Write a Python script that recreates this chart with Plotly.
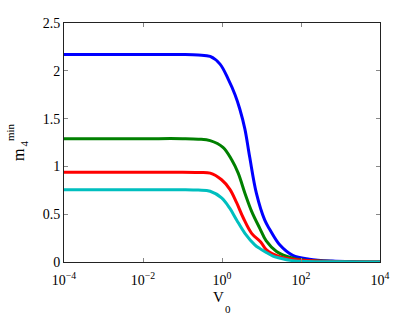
import plotly.graph_objects as go

# log10(V0) sample positions and m4^min values
blue_logv = [-4, -2, -1, -0.6, -0.3, -0.05, 0.16, 0.33, 0.45, 0.58, 0.70, 0.87, 1.08, 1.21, 1.46, 1.79, 2.21, 2.79, 3.4, 4]
blue_m = [2.17, 2.17, 2.17, 2.165, 2.15, 2.07, 1.91, 1.75, 1.60, 1.39, 1.10, 0.72, 0.44, 0.34, 0.18, 0.07, 0.03, 0.01, 0.003, 0.0]

green_logv = [-4, -2, -1, -0.6, -0.3, 0.025, 0.245, 0.41, 0.58, 0.75, 0.96, 1.12, 1.38, 1.79, 2.21, 3.0, 4]
green_m = [1.29, 1.29, 1.29, 1.285, 1.27, 1.20, 1.07, 0.93, 0.72, 0.53, 0.35, 0.22, 0.11, 0.04, 0.015, 0.003, 0.0]

red_logv = [-4, -2, -1, -0.6, -0.3, -0.01, 0.20, 0.37, 0.54, 0.75, 0.98, 1.12, 1.46, 1.96, 3.0, 4]
red_m = [0.94, 0.94, 0.94, 0.937, 0.93, 0.86, 0.76, 0.62, 0.46, 0.30, 0.21, 0.13, 0.056, 0.02, 0.003, 0.0]

cyan_logv = [-4, -2, -1, -0.6, -0.3, -0.01, 0.20, 0.37, 0.58, 0.83, 0.96, 1.12, 1.29, 1.43, 1.79, 3.0, 4]
cyan_m = [0.756, 0.756, 0.756, 0.752, 0.74, 0.67, 0.56, 0.44, 0.30, 0.18, 0.14, 0.10, 0.062, 0.045, 0.014, 0.002, 0.0]

x_tickvals = [1e-4, 1e-2, 1e0, 1e2, 1e4]
x_ticktext = ["10<sup>\u22124</sup>", "10<sup>\u22122</sup>", "10<sup>0</sup>", "10<sup>2</sup>", "10<sup>4</sup>"]
y_tickvals = [0, 0.5, 1, 1.5, 2, 2.5]
y_ticktext = ["0", "0.5", "1", "1.5", "2", "2.5"]

series = [
    (blue_logv, blue_m, "#0000FF"),
    (green_logv, green_m, "#008000"),
    (red_logv, red_m, "#FF0000"),
    (cyan_logv, cyan_m, "#00BFBF"),
]

FAMILY = "Liberation Serif, Times New Roman, DejaVu Serif, serif"

fig = go.Figure()
for lv, m, c in series:
    fig.add_trace(go.Scatter(
        x=[10 ** v for v in lv], y=m, mode="lines",
        line=dict(color=c, width=3, shape="spline", smoothing=1.0),
        showlegend=False, hoverinfo="skip"))

font = dict(family=FAMILY, size=14, color="black")
fig.update_layout(
    width=420, height=316,
    margin=dict(l=64, r=40, t=23, b=54),
    paper_bgcolor="white", plot_bgcolor="white",
    font=font,
    xaxis=dict(type="log", range=[-4, 4], tickvals=x_tickvals, ticktext=x_ticktext,
               ticks="inside", ticklen=4, tickcolor="#888", showgrid=False, zeroline=False,
               showline=True, linecolor="#222", linewidth=1, mirror="ticks",
               tickfont=font, ticklabelstandoff=5),
    yaxis=dict(range=[0, 2.5], tickvals=y_tickvals, ticktext=y_ticktext,
               ticks="inside", ticklen=4, tickcolor="#888", showgrid=False, zeroline=False,
               showline=True, linecolor="#222", linewidth=1, mirror="ticks",
               tickfont=font),
)

ann = [
    dict(text="V", x=218, y=297, size=15, angle=0),
    dict(text="0", x=227.5, y=308.5, size=11, angle=0),
    dict(text="m", x=18, y=155, size=16, angle=-90),
    dict(text="4", x=23, y=143.5, size=11, angle=-90),
    dict(text="min", x=10, y=132, size=11, angle=-90),
]
for a in ann:
    fig.add_annotation(
        text=a["text"], xref="paper", yref="paper",
        x=(a["x"] - 64) / (420 - 64 - 40), y=(316 - 54 - a["y"]) / (316 - 23 - 54),
        xanchor="center", yanchor="middle", showarrow=False, textangle=a["angle"],
        font=dict(family=FAMILY, size=a["size"], color="black"))

fig.write_html("out.html", config={"displayModeBar": False},
               post_script="document.body.style.margin='0';document.body.style.padding='0';")
